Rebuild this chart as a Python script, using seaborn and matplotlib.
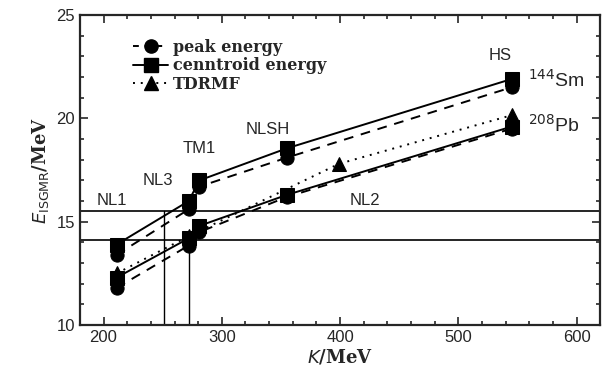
import numpy as np
import pandas as pd
import seaborn as sns
import matplotlib.pyplot as plt
from matplotlib.ticker import MultipleLocator

# incompressibility K (MeV) of the parameter sets
K_sets = [211, 272, 281, 355, 545]
K_tdrmf = [211, 272, 399, 545]

# 144Sm
sm_peak = [13.4, 15.6, 16.7, 18.1, 21.5]
sm_centroid = [13.9, 16.0, 17.0, 18.55, 21.9]
# 208Pb
pb_peak = [11.8, 13.85, 14.5, 16.2, 19.5]
pb_centroid = [12.3, 14.2, 14.8, 16.3, 19.6]
pb_tdrmf = [12.5, 14.3, 17.8, 20.15]

E_exp = [15.52, 14.11]
K_exp = [251, 272.5]

set_names = ['NL1', 'NL3', 'TM1', 'NLSH', 'NL2', 'HS']
name_pos = [(207, 16.05), (246, 17.0), (281, 18.55), (339, 19.45), (421, 16.05), (535, 23.05)]

sns.set_style('ticks')
plt.rcParams['font.family'] = ['Liberation Sans', 'DejaVu Sans']
plt.rcParams['xtick.direction'] = 'in'
plt.rcParams['ytick.direction'] = 'in'

fig = plt.figure(figsize=(6.1, 3.83), dpi=100)
ax = fig.add_axes([0.131, 0.151, 0.853, 0.81])

lw = 1.4
ms = 9.5
for nucleus, peak, cent in [('Sm', sm_peak, sm_centroid), ('Pb', pb_peak, pb_centroid)]:
    df = pd.DataFrame({'K': K_sets, 'peak': peak, 'cent': cent})
    sns.lineplot(data=df, x='K', y='peak', ax=ax, color='black', lw=lw,
                 linestyle=(0, (5, 4)), marker='o', markersize=ms, mec='black')
    sns.lineplot(data=df, x='K', y='cent', ax=ax, color='black', lw=lw,
                 linestyle='-', marker='s', markersize=ms, mec='black')
df_td = pd.DataFrame({'K': K_tdrmf, 'E': pb_tdrmf})
sns.lineplot(data=df_td, x='K', y='E', ax=ax, color='black', lw=lw,
             linestyle=(0, (1, 3)), marker='^', markersize=ms + 1, mec='black')

for e in E_exp:
    ax.axhline(e, color='black', lw=1.2)
for k, e in zip(K_exp, E_exp):
    ax.plot([k, k], [10, e], color='black', lw=1.0)

for name, (x, y) in zip(set_names, name_pos):
    ax.text(x, y, name, ha='center', va='center', fontsize=12)
ax.text(559, 21.85, '$^{144}$Sm', ha='left', va='center', fontsize=14)
ax.text(559, 19.7, '$^{208}$Pb', ha='left', va='center', fontsize=14)

h1, = ax.plot([], [], color='black', lw=lw, linestyle=(0, (3, 3)), marker='o', markersize=ms)
h2, = ax.plot([], [], color='black', lw=lw, linestyle='-', marker='s', markersize=ms)
h3, = ax.plot([], [], color='black', lw=lw, linestyle=(0, (1, 3)), marker='^', markersize=ms + 1)
ax.legend([h1, h2, h3], ['peak energy', 'cenntroid energy', 'TDRMF'],
          loc='upper left', bbox_to_anchor=(0.075, 0.97), frameon=False,
          handlelength=2.2, handletextpad=0.3, labelspacing=0.1,
          prop={'family': 'DejaVu Serif', 'weight': 'bold', 'size': 11.5})

ax.set_xlim(180, 620)
ax.set_ylim(10, 25)
ax.xaxis.set_major_locator(MultipleLocator(100))
ax.xaxis.set_minor_locator(MultipleLocator(20))
ax.yaxis.set_major_locator(MultipleLocator(5))
ax.yaxis.set_minor_locator(MultipleLocator(1))
ax.tick_params(which='both', top=True, right=True, labelsize=12, width=1.2)
ax.tick_params(which='major', length=6)
ax.tick_params(which='minor', length=3)
for s in ax.spines.values():
    s.set_linewidth(1.6)

ax.set_xlabel(r'$\mathbf{\mathit{K}}$/MeV', fontsize=13, family='DejaVu Serif',
              fontweight='bold', labelpad=2)
ax.set_ylabel(r'$\mathit{E}_{\mathrm{ISGMR}}$/MeV', fontsize=13, family='DejaVu Serif',
              fontweight='bold', labelpad=4)

fig.savefig('out.png', dpi=100)
